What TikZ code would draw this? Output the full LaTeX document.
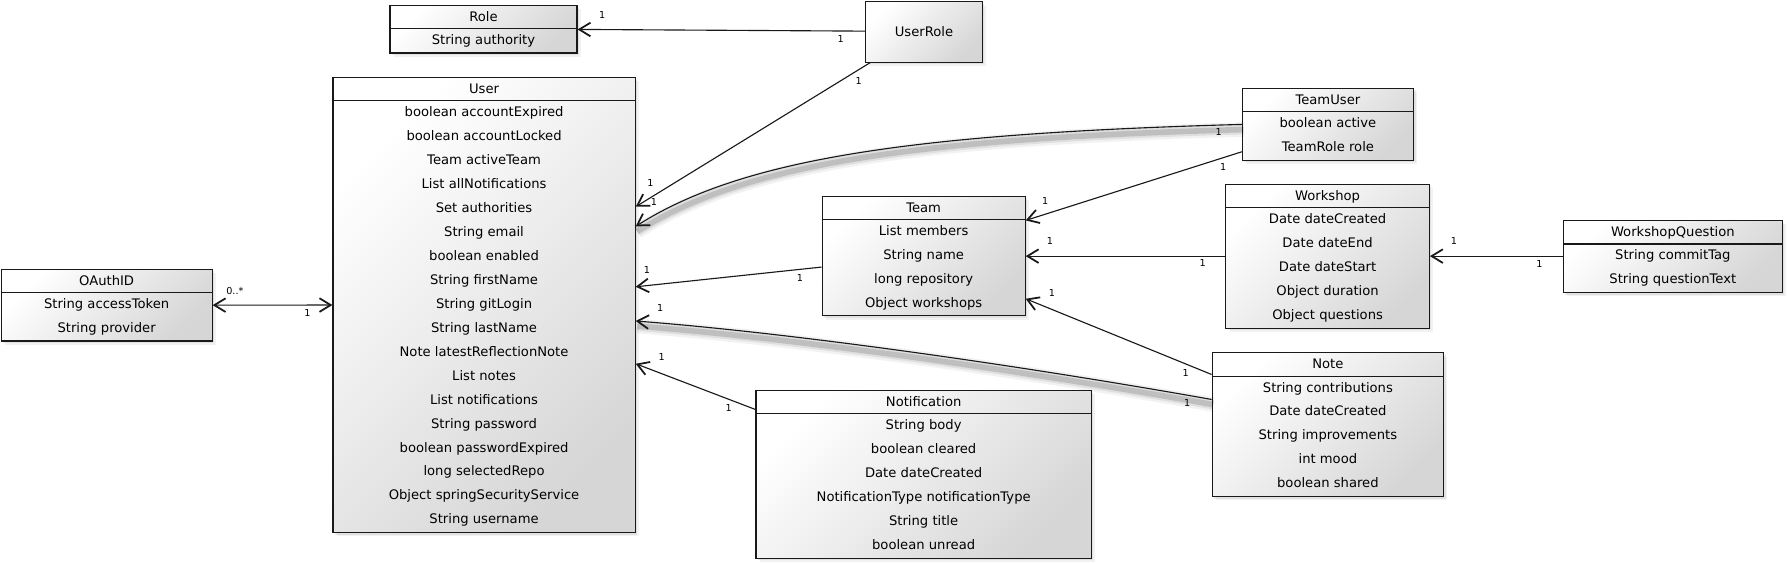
\documentclass[tikz,border=0pt]{standalone}
\usepackage{fontspec}
\setmainfont{DejaVu Sans}
\usetikzlibrary{arrows.meta, calc, fit, shadows}
\definecolor{boxline} {RGB}{25,  25,  25}
\definecolor{boxlight}{RGB}{255, 255, 255}
\definecolor{boxdark} {RGB}{214, 214, 214}

\begin{document}
\begin{tikzpicture}[x=0.025cm, y=-0.025cm,
  barb/.tip={Straight Barb[length=7pt, width=8.5pt, line width=1.1pt]},
  classbox/.style={draw=boxline, line width=0.7pt, inner sep=0pt, top color=boxlight, bottom color=boxdark, shading angle=45,
    drop shadow={opacity=0.10, shadow xshift=2.4pt, shadow yshift=-2.4pt},
    drop shadow={opacity=0.14, shadow xshift=1.3pt, shadow yshift=-1.3pt}},
  classline/.style={draw=boxline, line width=0.7pt},
  classtitle/.style={font=\fontsize{8.2}{10}\selectfont, anchor=base, inner sep=0pt},
  classattr/.style={font=\fontsize{8.2}{14.94}\selectfont, align=center, anchor=north, inner sep=0pt},
  mult/.style={font=\fontsize{6}{7}\selectfont, inner sep=0pt},
  assoc/.style={draw=boxline, line width=0.7pt, -barb},
  blurred/.style={
    preaction={draw=black, opacity=0.05, line width=9pt, arrows=-, transform canvas={xshift=1pt, yshift=-3.2pt}},
    preaction={draw=black, opacity=0.08, line width=6pt, arrows=-, transform canvas={xshift=1pt, yshift=-3.2pt}},
    preaction={draw=black, opacity=0.14, line width=3.5pt, arrows=-, transform canvas={xshift=1pt, yshift=-3.2pt}}}]
  \path[fill=white, use as bounding box] (0,0) rectangle (1568,494.6);

  % classes
  \node[classbox, fit={(342,4.5) (506,46.5)}] (Role) {};
  \draw[classline] ($(Role.north west)+(0,21)$) -- ($(Role.north east)+(0,21)$);
  \node[classtitle] (Role-title) at ($(Role.north)+(0,14.5)$) {Role};
  \node[classattr] (Role-attr) at ($(Role.north)+(0,19.8)$) {\strut String authority};

  \node[classbox, fit={(759,1.5) (861.5,54.5)}] (UserRole) {};
  \node[classtitle, anchor=center] (UserRole-title) at (UserRole.center) {UserRole};

  \node[classbox, fit={(292,68) (557,467)}] (User) {};
  \draw[classline] ($(User.north west)+(0,21)$) -- ($(User.north east)+(0,21)$);
  \node[classtitle] (User-title) at ($(User.north)+(0,14.5)$) {User};
  \node[classattr] (User-attr) at ($(User.north)+(0,19.8)$) {\strut boolean accountExpired\\boolean accountLocked\\Team activeTeam\\
    List allNotifications\\Set authorities\\String email\\boolean enabled\\String firstName\\String gitLogin\\String lastName\\
    Note latestReflectionNote\\List notes\\List notifications\\String password\\boolean passwordExpired\\long selectedRepo\\
    Object springSecurityService\\String username};

  \node[classbox, fit={(1,236) (186,299)}] (OAuthID) {};
  \draw[classline] ($(OAuthID.north west)+(0,21)$) -- ($(OAuthID.north east)+(0,21)$);
  \node[classtitle] (OAuthID-title) at ($(OAuthID.north)+(0,14.5)$) {OAuthID};
  \node[classattr] (OAuthID-attr) at ($(OAuthID.north)+(0,19.8)$) {\strut String accessToken\\String provider};

  \node[classbox, fit={(721,172) (899,277)}] (Team) {};
  \draw[classline] ($(Team.north west)+(0,21)$) -- ($(Team.north east)+(0,21)$);
  \node[classtitle] (Team-title) at ($(Team.north)+(0,14.5)$) {Team};
  \node[classattr] (Team-attr) at ($(Team.north)+(0,19.8)$) {\strut List members\\String name\\long repository\\Object workshops};

  \node[classbox, fit={(1089.5,77.5) (1239.5,140.5)}] (TeamUser) {};
  \draw[classline] ($(TeamUser.north west)+(0,21)$) -- ($(TeamUser.north east)+(0,21)$);
  \node[classtitle] (TeamUser-title) at ($(TeamUser.north)+(0,14.5)$) {TeamUser};
  \node[classattr] (TeamUser-attr) at ($(TeamUser.north)+(0,19.8)$) {\strut boolean active\\TeamRole role};

  \node[classbox, fit={(1075,161.5) (1253.5,288)}] (Workshop) {};
  \draw[classline] ($(Workshop.north west)+(0,21)$) -- ($(Workshop.north east)+(0,21)$);
  \node[classtitle] (Workshop-title) at ($(Workshop.north)+(0,14.5)$) {Workshop};
  \node[classattr] (Workshop-attr) at ($(Workshop.north)+(0,19.8)$) {\strut Date dateCreated\\Date dateEnd\\Date dateStart\\
    Object duration\\Object questions};

  \node[classbox, fit={(1371,193.5) (1563,256.5)}] (WorkshopQuestion) {};
  \draw[classline] ($(WorkshopQuestion.north west)+(0,21)$) -- ($(WorkshopQuestion.north east)+(0,21)$);
  \node[classtitle] (WorkshopQuestion-title) at ($(WorkshopQuestion.north)+(0,14.5)$) {WorkshopQuestion};
  \node[classattr] (WorkshopQuestion-attr) at ($(WorkshopQuestion.north)+(0,19.8)$) {\strut String commitTag\\String questionText};

  \node[classbox, fit={(1063,309.5) (1266,435.5)}] (Note) {};
  \draw[classline] ($(Note.north west)+(0,21)$) -- ($(Note.north east)+(0,21)$);
  \node[classtitle] (Note-title) at ($(Note.north)+(0,14.5)$) {Note};
  \node[classattr] (Note-attr) at ($(Note.north)+(0,19.8)$) {\strut String contributions\\Date dateCreated\\String improvements\\
    int mood\\boolean shared};

  \node[classbox, fit={(663,342.5) (957,489.5)}] (Notification) {};
  \draw[classline] ($(Notification.north west)+(0,21)$) -- ($(Notification.north east)+(0,21)$);
  \node[classtitle] (Notification-title) at ($(Notification.north)+(0,14.5)$) {Notification};
  \node[classattr] (Notification-attr) at ($(Notification.north)+(0,19.8)$) {\strut String body\\boolean cleared\\Date dateCreated\\
    NotificationType notificationType\\String title\\boolean unread};

  % associations
  \draw[assoc] ($(UserRole.north west)+(0,26.3)$) -- ($(Role.north east)+(0,21.8)$);
  \draw[assoc] ($(UserRole.south west)+(4.5,0)$) -- ($(User.north east)+(0,113.8)$);
  \draw[assoc, blurred] ($(TeamUser.north west)+(0,32.1)$) .. controls +(-290,8) and +(93,-59) .. ($(User.north east)+(0,131)$);
  \draw[assoc] ($(TeamUser.north west)+(0,56.1)$) -- ($(Team.north east)+(0,21.8)$);
  \draw[assoc] ($(Workshop.north west)+(0,63.6)$) -- ($(Team.north east)+(0,53.1)$);
  \draw[assoc] ($(WorkshopQuestion.north west)+(0,31.6)$) -- ($(Workshop.north east)+(0,63.6)$);
  \draw[assoc] ($(Note.north west)+(0,19.4)$) -- ($(Team.north east)+(0,90.5)$);
  \draw[assoc] ($(Team.north west)+(0,62.7)$) -- ($(User.north east)+(0,184)$);
  \draw[assoc, blurred] ($(Note.north west)+(0,41.3)$) .. controls +(-163,-29) and +(142.5,11) .. ($(User.north east)+(0,214)$);
  \draw[assoc] ($(Notification.north west)+(0,17.1)$) -- ($(User.north east)+(0,251.5)$);
  \draw[assoc, barb-barb] ($(OAuthID.north east)+(0,32.1)$) -- ($(User.north west)+(0,200)$);

  % multiplicities
  \node[mult] (m1)  at (528,13.2)    {1};
  \node[mult] (m2)  at (737.3,34.2)  {1};
  \node[mult] (m3)  at (753,70.8)    {1};
  \node[mult] (m4)  at (570.5,160.2) {1};
  \node[mult] (m5)  at (1068.8,116)  {1};
  \node[mult] (m6)  at (573.4,177.4) {1};
  \node[mult] (m7)  at (1072.7,146.2) {1};
  \node[mult] (m8)  at (916.5,176)   {1};
  \node[mult] (m9)  at (920.8,211)   {1};
  \node[mult] (m10) at (1054.7,231)  {1};
  \node[mult] (m11) at (1275,211.3)  {1};
  \node[mult] (m12) at (1349.9,231.5) {1};
  \node[mult] (m13) at (922.4,257.3) {1};
  \node[mult] (m14) at (1039.8,326.8) {1};
  \node[mult] (m15) at (567.3,236.8) {1};
  \node[mult] (m16) at (701.6,243.5) {1};
  \node[mult] (m17) at (579,270.4)   {1};
  \node[mult] (m18) at (1041,353)    {1};
  \node[mult] (m19) at (580.2,313.4) {1};
  \node[mult] (m20) at (639,357.5)   {1};
  \node[mult] (m21) at (206,254.9)   {0..*};
  \node[mult] (m22) at (269.5,274.2) {1};
\end{tikzpicture}
\end{document}
